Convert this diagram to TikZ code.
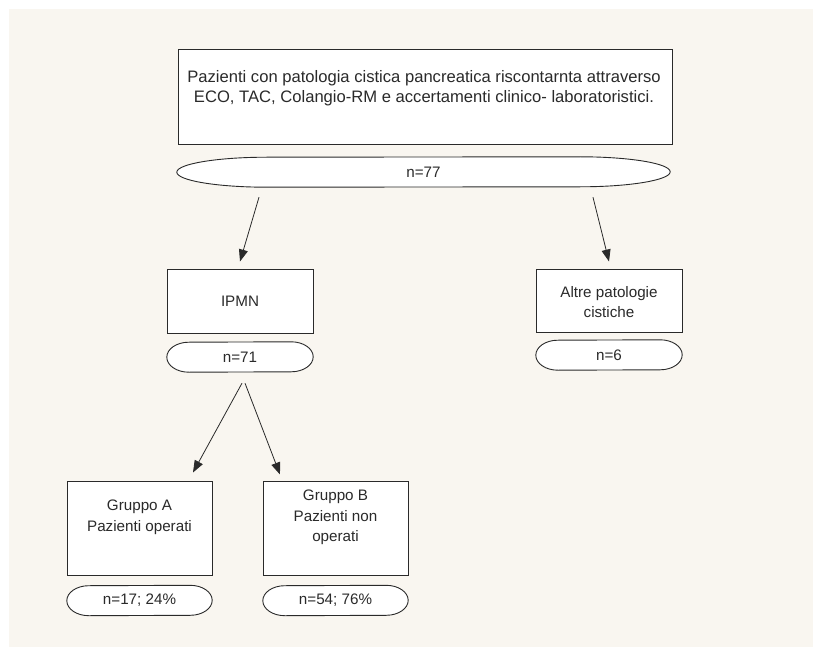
\documentclass[tikz,border=0pt]{standalone}
\usepackage{fontspec}
\setmainfont{Liberation Sans}
\usetikzlibrary{arrows.meta}
\definecolor{bgbeige}{HTML}{F9F6F0}
\definecolor{ink}{HTML}{2A2A2A}
\tikzset{
  box/.style={draw=ink, line width=1pt, fill=white, rectangle, inner sep=0pt},
  oval/.style={rectangle, inner sep=0pt, text=ink, font=\fontsize{15.2}{20}\selectfont},
  ovalline/.style={draw=ink, line width=0.9pt, fill=white},
  lbl/.style={text=ink, align=center, inner sep=0pt, font=\fontsize{15.2}{20.5}\selectfont},
  arr/.style={draw=ink, line width=0.8pt, -{Triangle[length=12pt,width=9pt]}}
}
% oval outline behind a named node: #1 node name, #2 end x-radius
\newcommand\ovaloutline[2]{%
  \path[ovalline] ([xshift=-#2]#1.north east)
    arc[start angle=90,end angle=-90,x radius=#2,y radius=15pt]
    -- ([xshift=#2]#1.south west)
    arc[start angle=270,end angle=90,x radius=#2,y radius=15pt] -- cycle;}
\begin{document}
\begin{tikzpicture}[x=1pt,y=-1pt]
\useasboundingbox (0,0) rectangle (813,647);
\fill[white] (0,0) rectangle (813,647);
\fill[bgbeige] (9,9) rectangle (813,647);

% top
\node[box, minimum width=494pt, minimum height=95pt] (top) at (425,97.5) {};
\node[lbl, font=\fontsize{16.6}{20.5}\selectfont] (toptxt) at (424,88) {Pazienti con patologia cistica pancreatica riscontarnta attraverso\\ECO, TAC, Colangio-RM e accertamenti clinico- laboratoristici.};
\node[oval, minimum width=493pt, minimum height=30pt] (e77) at (423.5,172) {};
\ovaloutline{e77}{90pt}
\node[oval] (t77) at (e77.center) {n=77};

% IPMN
\node[box, minimum width=146pt, minimum height=64pt] (ipmn) at (240,301) {};
\node[lbl] (ipmntxt) at (240,301) {IPMN};
\node[oval, minimum width=146pt, minimum height=30pt] (e71) at (240,357) {};
\ovaloutline{e71}{22pt}
\node[oval] (t71) at (e71.center) {n=71};

% Altre
\node[box, minimum width=146pt, minimum height=63pt] (altre) at (609,300.5) {};
\node[lbl] (altretxt) at (609,302) {Altre patologie\\cistiche};
\node[oval, minimum width=146pt, minimum height=30pt] (e6) at (609,355) {};
\ovaloutline{e6}{22pt}
\node[oval] (t6) at (e6.center) {n=6};

% Gruppo A
\node[box, minimum width=145pt, minimum height=94pt] (ga) at (139.5,528) {};
\node[lbl] (gatxt) at (139.5,517.5) {Gruppo A\\Pazienti operati};
\node[oval, minimum width=145pt, minimum height=30pt] (e17) at (139.5,600.5) {};
\ovaloutline{e17}{22pt}
\node[oval] (t17) at (e17.center) {n=17; 24\%};

% Gruppo B
\node[box, minimum width=145pt, minimum height=94pt] (gb) at (335.5,528) {};
\node[lbl] (gbtxt) at (335.5,517.5) {Gruppo B\\Pazienti non\\operati};
\node[oval, minimum width=145pt, minimum height=30pt] (e54) at (335.5,600.5) {};
\ovaloutline{e54}{22pt}
\node[oval] (t54) at (e54.center) {n=54; 76\%};

% arrows
\draw[arr] ([xshift=-164.5pt,yshift=-10pt]e77.south) -- ([yshift=7pt]ipmn.north);
\draw[arr] ([xshift=169.5pt,yshift=-10pt]e77.south) -- ([yshift=7pt]altre.north);
\draw[arr] ([xshift=2pt,yshift=-11pt]e71.south) -- ([xshift=53.5pt,yshift=8pt]ga.north);
\draw[arr] ([xshift=5pt,yshift=-11pt]e71.south) -- ([xshift=-55.5pt,yshift=6pt]gb.north);
\end{tikzpicture}
\end{document}
